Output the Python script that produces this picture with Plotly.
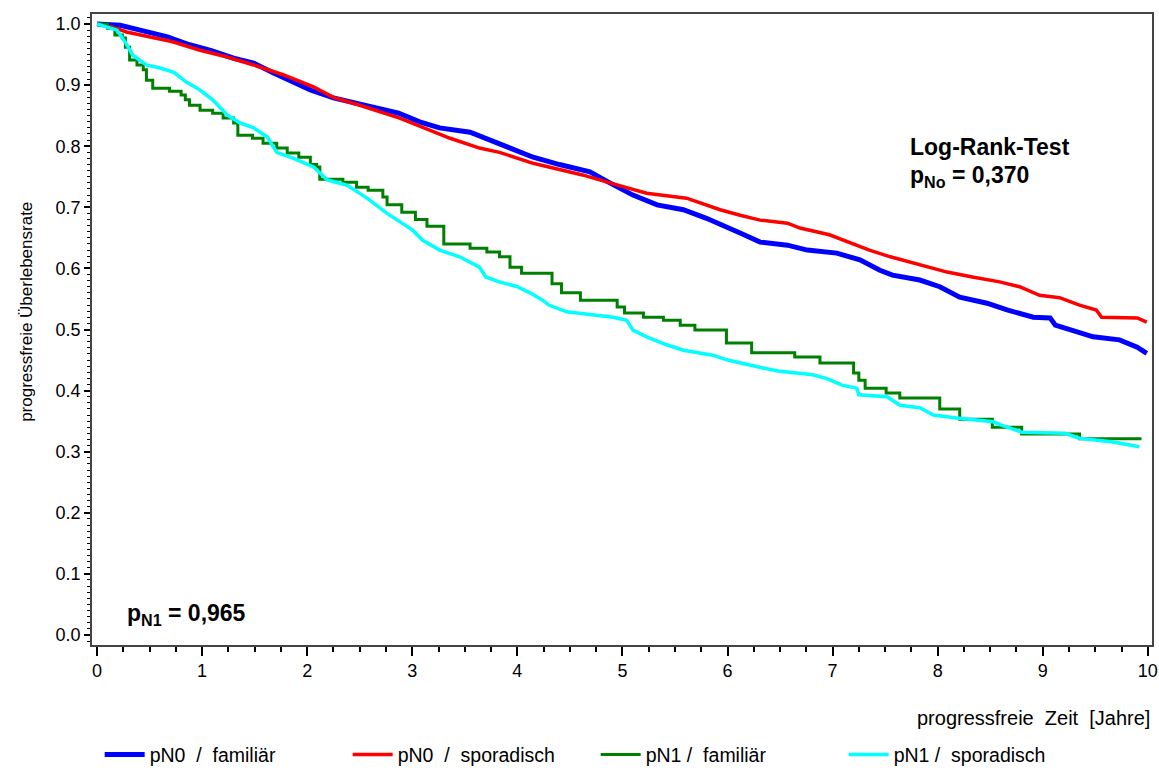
import plotly.graph_objects as go

NB = "\u00a0"
# ---- data ----
series_names = ["pN0" + NB * 2 + "/" + NB * 2 + "familiär",
                "pN0" + NB * 2 + "/" + NB * 2 + "sporadisch",
                "pN1" + NB + "/" + NB * 2 + "familiär",
                "pN1" + NB + "/" + NB * 2 + "sporadisch"]
series_colors = ["#0000FF", "#FF0000", "#008000", "#00FFFF"]

blue_t = [0, 0.22, 0.41, 0.67, 0.88, 1.08, 1.3, 1.49, 1.68, 1.84,
          2.03, 2.25, 2.44, 2.63, 2.87, 3.07, 3.26, 3.55, 3.74, 3.95,
          4.15, 4.4, 4.69, 4.88, 5.1, 5.33, 5.58, 5.8, 6.0, 6.12,
          6.31, 6.57, 6.76, 7.04, 7.26, 7.45, 7.57, 7.83, 8.02, 8.21,
          8.47, 8.66, 8.91, 9.07, 9.12, 9.29, 9.48, 9.73, 9.9, 9.99]
blue_s = [1.0, 0.998, 0.99, 0.979, 0.966, 0.957, 0.944, 0.936, 0.92, 0.908,
          0.892, 0.879, 0.871, 0.862, 0.854, 0.84, 0.83, 0.823, 0.81, 0.797,
          0.782, 0.77, 0.758, 0.74, 0.72, 0.704, 0.696, 0.682, 0.668, 0.658,
          0.643, 0.638, 0.63, 0.625, 0.614, 0.597, 0.589, 0.581, 0.57, 0.553,
          0.543, 0.532, 0.52, 0.519, 0.507, 0.499, 0.488, 0.483, 0.471, 0.461]

red_t = [0, 0.15, 0.28, 0.5, 0.72, 0.98, 1.24, 1.49, 1.77, 2.06,
         2.25, 2.5, 2.88, 3.1, 3.36, 3.64, 3.83, 4.15, 4.62, 4.88,
         5.23, 5.61, 5.74, 5.93, 6.12, 6.31, 6.57, 6.69, 6.97, 7.16,
         7.35, 7.55, 7.83, 8.09, 8.33, 8.59, 8.78, 8.97, 9.16, 9.35,
         9.51, 9.56, 9.9, 9.99]
red_s = [1.0, 0.995, 0.987, 0.979, 0.971, 0.957, 0.946, 0.933, 0.917, 0.897,
         0.88, 0.867, 0.846, 0.831, 0.813, 0.797, 0.79, 0.772, 0.753, 0.74,
         0.723, 0.715, 0.707, 0.696, 0.687, 0.679, 0.674, 0.666, 0.655, 0.642,
         0.63, 0.619, 0.606, 0.594, 0.586, 0.578, 0.57, 0.556, 0.552, 0.54,
         0.532, 0.52, 0.519, 0.512]

green_t = [0, 0.1, 0.17, 0.24, 0.27, 0.31, 0.38, 0.44, 0.47, 0.53,
           0.69, 0.8, 0.84, 0.88, 0.98, 1.1, 1.2, 1.3, 1.34, 1.48,
           1.58, 1.71, 1.81, 1.92, 2.03, 2.09, 2.12, 2.34, 2.47, 2.58,
           2.72, 2.76, 2.9, 3.03, 3.14, 3.3, 3.55, 3.71, 3.83, 3.93,
           4.04, 4.33, 4.42, 4.6, 4.95, 5.02, 5.2, 5.39, 5.55, 5.69,
           5.99, 6.23, 6.64, 6.88, 7.2, 7.25, 7.31, 7.51, 7.64, 8.02,
           8.21, 8.52, 8.8, 9.35, 9.94]
green_s = [1.0, 0.993, 0.982, 0.977, 0.962, 0.941, 0.933, 0.925, 0.908, 0.895,
           0.89, 0.884, 0.876, 0.867, 0.859, 0.854, 0.846, 0.838, 0.818, 0.813,
           0.805, 0.797, 0.789, 0.782, 0.77, 0.766, 0.746, 0.741, 0.733, 0.728,
           0.717, 0.704, 0.692, 0.68, 0.669, 0.64, 0.633, 0.627, 0.619, 0.602,
           0.592, 0.575, 0.56, 0.548, 0.537, 0.527, 0.52, 0.515, 0.507, 0.499,
           0.478, 0.462, 0.455, 0.445, 0.429, 0.417, 0.404, 0.396, 0.388, 0.37,
           0.353, 0.34, 0.329, 0.321, 0.321]

cyan_t = [0, 0.19, 0.27, 0.34, 0.47, 0.6, 0.73, 0.85, 0.98, 1.1,
          1.24, 1.36, 1.49, 1.62, 1.71, 1.87, 2.06, 2.19, 2.38, 2.57,
          2.76, 2.88, 3.0, 3.1, 3.26, 3.45, 3.64, 3.7, 3.83, 4.0,
          4.12, 4.24, 4.3, 4.47, 4.69, 4.91, 5.04, 5.1, 5.23, 5.42,
          5.58, 5.86, 6.0, 6.12, 6.34, 6.48, 6.81, 6.94, 7.09, 7.23,
          7.25, 7.52, 7.64, 7.83, 7.96, 8.18, 8.53, 8.6, 8.8, 9.21,
          9.35, 9.67, 9.92]
cyan_s = [1.0, 0.99, 0.97, 0.949, 0.933, 0.928, 0.921, 0.905, 0.892, 0.876,
          0.851, 0.838, 0.83, 0.815, 0.79, 0.78, 0.766, 0.745, 0.736, 0.715,
          0.69, 0.676, 0.663, 0.646, 0.63, 0.619, 0.602, 0.586, 0.578, 0.57,
          0.56, 0.548, 0.54, 0.529, 0.524, 0.52, 0.515, 0.499, 0.488, 0.475,
          0.466, 0.458, 0.45, 0.445, 0.437, 0.432, 0.426, 0.42, 0.409, 0.404,
          0.393, 0.39, 0.376, 0.372, 0.36, 0.355, 0.349, 0.344, 0.332, 0.33,
          0.322, 0.316, 0.308]

x_ticks = list(range(0, 11))
y_ticks = [0.0, 0.1, 0.2, 0.3, 0.4, 0.5, 0.6, 0.7, 0.8, 0.9, 1.0]

FONT = "Liberation Sans, Arial, sans-serif"

fig = go.Figure()
all_t = [blue_t, red_t, green_t, cyan_t]
all_s = [blue_s, red_s, green_s, cyan_s]
widths = [5, 3.5, 3, 3.5]
shapes = ["linear", "linear", "hv", "linear"]
for name, col, t, s, w, sh in zip(series_names, series_colors, all_t, all_s, widths, shapes):
    fig.add_trace(go.Scatter(x=t, y=s, mode="lines", name=name,
                             line=dict(color=col, width=w, shape=sh)))

fig.update_layout(
    width=1159, height=771,
    margin=dict(l=92, r=7, t=14, b=126, autoexpand=False),
    plot_bgcolor="white", paper_bgcolor="white",
    font=dict(family=FONT, size=17, color="black"),
    showlegend=True,
    legend=dict(orientation="h", xref="container", yref="container",
                x=0.086, xanchor="left", y=0.021, yanchor="middle",
                entrywidth=193, entrywidthmode="pixels",
                font=dict(family=FONT, size=19.5), itemwidth=40,
                bgcolor="rgba(0,0,0,0)"),
)
fig.update_xaxes(range=[-0.048, 10.04], tickvals=x_ticks, ticktext=[str(v) for v in x_ticks],
                 ticks="outside", ticklen=9, tickwidth=1.5, tickcolor="black",
                 minor=dict(dtick=0.25, tick0=0, ticks="outside", ticklen=5, tickcolor="black", tickwidth=1.5),
                 showline=True, linecolor="#444", linewidth=1.5, mirror=True,
                 showgrid=False, zeroline=False,
                 tickfont=dict(family=FONT, size=18))
fig.update_yaxes(range=[-0.0164, 1.0164], tickvals=y_ticks, ticktext=[f"{v:.1f}" for v in y_ticks],
                 ticks="outside", ticklen=6, tickwidth=1.5, tickcolor="black",
                 minor=dict(dtick=0.01, tick0=0, ticks="outside", ticklen=3, tickcolor="black", tickwidth=1),
                 showline=True, linecolor="#444", linewidth=1.5, mirror=True,
                 showgrid=False, zeroline=False,
                 tickfont=dict(family=FONT, size=18))

# y-axis title
fig.add_annotation(x=-0.0613, xref="paper", xanchor="center", y=0.528, yref="paper", yanchor="middle",
                   text="progressfreie" + NB + "Überlebensrate", textangle=-90, showarrow=False,
                   font=dict(family=FONT, size=17, color="black"))
# x-axis title
fig.add_annotation(x=1.0, xref="paper", xanchor="right", y=-0.115, yref="paper", yanchor="middle",
                   text="progressfreie" + NB * 2 + "Zeit" + NB * 2 + "[Jahre]", showarrow=False,
                   font=dict(family=FONT, size=20, color="black"))
fig.add_annotation(x=7.72, y=0.799, xanchor="left", yanchor="middle", showarrow=False,
                   text="<b>Log-Rank-Test</b>", font=dict(family=FONT, size=23, color="black"))
fig.add_annotation(x=7.72, y=0.75, xanchor="left", yanchor="middle", showarrow=False,
                   text="<b>p<sub>No</sub> = 0,370</b>", font=dict(family=FONT, size=23, color="black"))
fig.add_annotation(x=0.27, y=0.033, xanchor="left", yanchor="middle", showarrow=False,
                   text="<b>p<sub>N1</sub> = 0,965</b>", font=dict(family=FONT, size=23, color="black"))

fig.write_html("out.html")
